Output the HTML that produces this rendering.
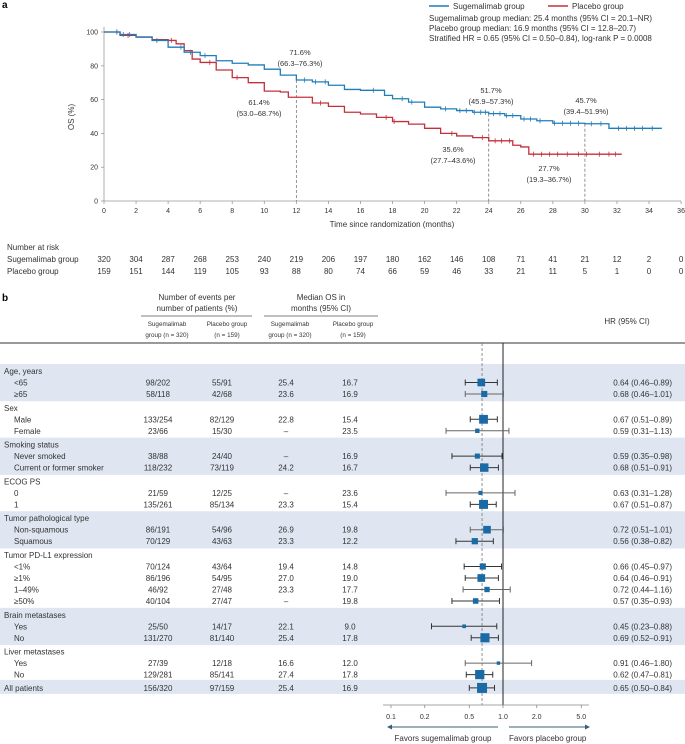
<!DOCTYPE html>
<html><head><meta charset="utf-8"><style>
body{margin:0;background:#fff}
svg{display:block;font-family:"Liberation Sans",sans-serif}
</style></head><body>
<svg id="c" width="685" height="744" viewBox="0 0 685 744"></svg>
<script>
const NS="http://www.w3.org/2000/svg";
const svg=document.getElementById('c');
function el(t,a,p){const e=document.createElementNS(NS,t);for(const k in a)e.setAttribute(k,a[k]);(p||svg).appendChild(e);return e;}
function tx(x,y,s,o,p){const e=el('text',Object.assign({x:x,y:y,'font-size':8,fill:'#333'},o||{}),p);e.textContent=s;return e;}

// ---------- KM data ----------
const sugeT=[0,1,2,3,4,5,6,7,8,9,10,11,12,13,14,15,16,17,17.5,18,19,20,21,22,23,24,25,26,27,28,30,31.5,31.5,34.8];
const sugeS=[100,98.5,97,95,91,88,86,83,81.5,80.5,78,74.5,71.6,70.5,68.5,66,65.5,65.5,62.5,60.5,58.5,55.5,54.5,53.5,52.5,51.7,50.5,48.5,47.5,46,45.7,45.7,43,43];
const placT=[0,1,2,3,4,4.5,5,5.5,6,7,8,9,10,11,11.5,12,13,14,15,16,17,18,19,20,21,22,23,24,25,25.5,26,26.5,32.3];
const placS=[100,98,97,95.5,95,93,89,84,82,77.5,73,70,65,64.5,61.4,61.4,58,56,52.5,51.5,49.5,47,45.5,43,40,38.5,37.5,35.6,35.6,33,32,27.7,27.7];
const sugeCens=[0.8,1.2,1.6,3.3,4.8,5.4,6.3,12.5,13.2,13.8,16.8,18.6,19.2,21.3,22.2,22.6,23.1,23.5,23.8,24.3,24.7,25.1,25.5,26.2,26.6,27.2,28.1,28.6,29.1,29.6,30.4,31,32.1,32.6,33.1,33.6,34.2];
const placCens=[0.8,1.5,4.2,6.6,8.3,13.5,17.6,18.1,21.7,23.6,24.4,24.8,25.3,26.8,27.3,27.8,28.3,28.9,29.6,30.1,30.9,31.5,31.9];
const riskSuge=[320,304,287,268,253,240,219,206,197,180,162,146,108,71,41,21,12,2,0];
const riskPlac=[159,151,144,119,105,93,88,80,74,66,59,46,33,21,11,5,1,0,0];
const xTicks=[0,2,4,6,8,10,12,14,16,18,20,22,24,26,28,30,32,34,36];
const yTicks=[0,20,40,60,80,100];
const xK=t=>104+t*16.03, yK=s=>201-s*1.69;

const pa=tx(2,8,'a',{'font-weight':'bold','font-size':10,fill:'#000'});


// axes
const ax=el('g',{});
el('line',{x1:104,y1:yK(103),x2:104,y2:201,stroke:'#999','stroke-width':0.8},ax);
el('line',{x1:104,y1:201,x2:681,y2:201,stroke:'#999','stroke-width':0.8},ax);
yTicks.forEach(v=>{el('line',{x1:101,x2:104,y1:yK(v),y2:yK(v),stroke:'#999','stroke-width':0.8},ax);
 const t=tx(98,yK(v)+2.5,v,{'text-anchor':'end','font-size':7},ax);
 
 });
xTicks.forEach(v=>{el('line',{x1:xK(v),x2:xK(v),y1:201,y2:204,stroke:'#999','stroke-width':0.8},ax);
 const t=tx(xK(v),213,v,{'text-anchor':'middle','font-size':7},ax);
 
 });
const xt=tx(392,227,'Time since randomization (months)',{'text-anchor':'middle'});


const yt=tx(0,0,'OS (%)',{'text-anchor':'middle',transform:'translate(74,117) rotate(-90)'});



// dashed verticals
[[12,71.6],[24,51.7],[30,45.7]].forEach(d=>{const l=el('line',{x1:xK(d[0]),x2:xK(d[0]),y1:yK(d[1]),y2:201,stroke:'#777','stroke-width':0.8,'stroke-dasharray':'3,2'});
 
 });

function step(T,S){let d=`M${xK(T[0])},${yK(S[0])}`;for(let i=1;i<T.length;i++){d+=`H${xK(T[i])}V${yK(S[i])}`;}return d;}
function survAt(T,S,t){let s=S[0];for(let i=0;i<T.length;i++){if(T[i]<=t)s=S[i];}return s;}
const pc=el('path',{d:step(placT,placS),fill:'none',stroke:'#c4303d','stroke-width':1.3});


const sc=el('path',{d:step(sugeT,sugeS),fill:'none',stroke:'#1f7db8','stroke-width':1.3});


placCens.forEach(t=>{const y=yK(survAt(placT,placS,t));const l=el('line',{x1:xK(t),x2:xK(t),y1:y-2.5,y2:y+2.5,stroke:'#c4303d','stroke-width':0.8});
 
 });
sugeCens.forEach(t=>{const y=yK(survAt(sugeT,sugeS,t));const l=el('line',{x1:xK(t),x2:xK(t),y1:y-2.5,y2:y+2.5,stroke:'#1f7db8','stroke-width':0.8});
 
 });

// annotations
[[300,55,'71.6%'],[300,66,'(66.3–76.3%)'],[259,105,'61.4%'],[259,116,'(53.0–68.7%)'],[491,93,'51.7%'],[491,104,'(45.9–57.3%)'],[586,103,'45.7%'],[586,114,'(39.4–51.9%)'],[453,152,'35.6%'],[453,163,'(27.7–43.6%)'],[549,171,'27.7%'],[549,182,'(19.3–36.7%)']].forEach(a=>{const t=tx(a[0],a[1],a[2],{'text-anchor':'middle','font-size':7.5});
 
 });

// legend
const lg=el('g',{});
el('line',{x1:429,x2:449,y1:6,y2:6,stroke:'#1f7db8','stroke-width':1.5},lg);
tx(453,9,'Sugemalimab group',{},lg);
el('line',{x1:548,x2:568,y1:6,y2:6,stroke:'#c4303d','stroke-width':1.5},lg);
tx(572,9,'Placebo group',{},lg);
tx(429,21,'Sugemalimab group median: 25.4 months (95% CI = 20.1–NR)',{},lg);
tx(429,31,'Placebo group median: 16.9 months (95% CI = 12.8–20.7)',{},lg);
tx(429,41,'Stratified HR = 0.65 (95% CI = 0.50–0.84), log-rank P = 0.0008',{},lg);

// number at risk
const nr=el('g',{});
tx(7,250,'Number at risk',{},nr);tx(7,262,'Sugemalimab group',{},nr);tx(7,274,'Placebo group',{},nr);
riskSuge.forEach((v,i)=>tx(xK(xTicks[i]),262,v,{'text-anchor':'middle'},nr));
riskPlac.forEach((v,i)=>tx(xK(xTicks[i]),274,v,{'text-anchor':'middle'},nr));

// ---------- Forest ----------
const pb=tx(2,301,'b',{'font-weight':'bold','font-size':10,fill:'#000'});


const groupNames=['Age, years','Sex','Smoking status','ECOG PS','Tumor pathological type','Tumor PD-L1 expression','Brain metastases','Liver metastases'];
const rowGroup=[0,0,1,1,2,2,3,3,4,4,5,5,5,5,6,6,7,7];
const rowLabels=['<65','≥65','Male','Female','Never smoked','Current or former smoker','0','1','Non-squamous','Squamous','<1%','≥1%','1–49%','≥50%','Yes','No','Yes','No'];
const evS=['98/202','58/118','133/254','23/66','38/88','118/232','21/59','135/261','86/191','70/129','70/124','86/196','46/92','40/104','25/50','131/270','27/39','129/281'];
const evP=['55/91','42/68','82/129','15/30','24/40','73/119','12/25','85/134','54/96','43/63','43/64','54/95','27/48','27/47','14/17','81/140','12/18','85/141'];
const medS=['25.4','23.6','22.8','–','–','24.2','–','23.3','26.9','23.3','19.4','27.0','23.3','–','22.1','25.4','16.6','27.4'];
const medP=['16.7','16.9','15.4','23.5','16.9','16.7','23.6','15.4','19.8','12.2','14.8','19.0','17.7','19.8','9.0','17.8','12.0','17.8'];
const hr=[0.64,0.68,0.67,0.59,0.59,0.68,0.63,0.67,0.72,0.56,0.66,0.64,0.72,0.57,0.45,0.69,0.91,0.62];
const lo=[0.46,0.46,0.51,0.31,0.35,0.51,0.31,0.51,0.51,0.38,0.45,0.46,0.44,0.35,0.23,0.52,0.46,0.47];
const hi=[0.89,1.01,0.89,1.13,0.98,0.91,1.28,0.87,1.01,0.82,0.97,0.91,1.16,0.93,0.88,0.91,1.80,0.81];
const allRow={ev:'156/320',evp:'97/159',ms:'25.4',mp:'16.9',hr:0.65,lo:0.50,hi:0.84};
const hrTicks=[0.1,0.2,0.5,1.0,2.0,5.0];
const xF=h=>503+112*Math.log10(h);
const f2=v=>v.toFixed(2);

// header
const hd=el('g',{});
tx(197,300,'Number of events per',{'text-anchor':'middle'},hd);
tx(197,311,'number of patients (%)',{'text-anchor':'middle'},hd);
el('line',{x1:141,x2:252,y1:316,y2:316,stroke:'#555','stroke-width':0.8},hd);
tx(321,300,'Median OS in',{'text-anchor':'middle'},hd);
tx(321,311,'months (95% CI)',{'text-anchor':'middle'},hd);
el('line',{x1:264,x2:378,y1:316,y2:316,stroke:'#555','stroke-width':0.8},hd);
[[167,'Sugemalimab','group (n = 320)'],[227,'Placebo group','(n = 159)'],[290,'Sugemalimab','group (n = 320)'],[353,'Placebo group','(n = 159)']].forEach(h=>{tx(h[0],326,h[1],{'text-anchor':'middle','font-size':6.3},hd);tx(h[0],337,h[2],{'text-anchor':'middle','font-size':6.3},hd);});
tx(627,324,'HR (95% CI)',{'text-anchor':'middle'},hd);
el('line',{x1:0,x2:685,y1:343,y2:343,stroke:'#333','stroke-width':1},hd);

// compute y positions
const headerY=[];const rowY=[];let y=371;let g=-1;
rowGroup.forEach((gi,i)=>{if(gi!==g){if(g>=0)y+=13.8;headerY[gi]=y;g=gi;}y+=11.5;rowY[i]=y;});
const allY=y+13.3;
// bands
const bands=el('g',{});
groupNames.forEach((n,gi)=>{if(gi%2===0){let last=0;rowGroup.forEach((r,i)=>{if(r===gi)last=rowY[i];});
 el('rect',{x:0,y:headerY[gi]-7,width:685,height:last-headerY[gi]+14.3,fill:'#dfe6f1'},bands);}});
el('rect',{x:0,y:allY-8,width:685,height:14,fill:'#dfe6f1'},bands);

// ref lines
const nl=el('line',{x1:xF(1),x2:xF(1),y1:343,y2:705,stroke:'#222','stroke-width':1});


const ol=el('line',{x1:xF(0.65),x2:xF(0.65),y1:343,y2:705,stroke:'#777','stroke-width':0.8,'stroke-dasharray':'3,2'});



// group headers
groupNames.forEach((n,gi)=>{const t=tx(4,headerY[gi]+3,n);
 
 });
function drawRow(label,lx,yy,e1,e2,m1,m2,h,l,u,sz){
 const rg=el('g',{});
 
 
 tx(lx,yy+3,label,{},rg);
 tx(158,yy+3,e1,{'text-anchor':'middle'},rg);tx(222,yy+3,e2,{'text-anchor':'middle'},rg);
 tx(286,yy+3,m1,{'text-anchor':'middle'},rg);tx(350,yy+3,m2,{'text-anchor':'middle'},rg);
 const col=u>=1?'#666':'#333';
 el('line',{x1:xF(l),x2:xF(u),y1:yy,y2:yy,stroke:col,'stroke-width':1},rg);
 el('line',{x1:xF(l),x2:xF(l),y1:yy-3,y2:yy+3,stroke:col,'stroke-width':1},rg);
 el('line',{x1:xF(u),x2:xF(u),y1:yy-3,y2:yy+3,stroke:col,'stroke-width':1},rg);
 el('rect',{x:xF(h)-sz/2,y:yy-sz/2,width:sz,height:sz,fill:'#1a6aa5'},rg);
 tx(672,yy+3,`${f2(h)} (${f2(l)}–${f2(u)})`,{'text-anchor':'end'},rg);
}
rowLabels.forEach((lab,i)=>{const parts=evS[i].split('/').map(Number),pp=evP[i].split('/').map(Number);const n=parts[1]+pp[1];
 drawRow(lab,14,rowY[i],evS[i],evP[i],medS[i],medP[i],hr[i],lo[i],hi[i],Math.sqrt(n)*0.45);});
drawRow('All patients',4,allY,allRow.ev,allRow.evp,allRow.ms,allRow.mp,allRow.hr,allRow.lo,allRow.hi,10);

// forest axis
const fa=el('g',{});
el('line',{x1:383,x2:589,y1:705,y2:705,stroke:'#888','stroke-width':0.8},fa);
hrTicks.forEach(v=>{el('line',{x1:xF(v),x2:xF(v),y1:705,y2:708,stroke:'#888','stroke-width':0.8},fa);tx(xF(v),719,v.toFixed(1),{'text-anchor':'middle','font-size':7},fa);});
el('line',{x1:390,x2:498,y1:727,y2:727,stroke:'#3a5f7a','stroke-width':0.9},fa);
el('path',{d:'M387,727 l5,-2.5 v5 z',fill:'#3a5f7a'},fa);
el('line',{x1:509,x2:586,y1:727,y2:727,stroke:'#3a5f7a','stroke-width':0.9},fa);
el('path',{d:'M590,727 l-5,-2.5 v5 z',fill:'#3a5f7a'},fa);
tx(443,741,'Favors sugemalimab group',{'text-anchor':'middle'},fa);
tx(509,741,'Favors placebo group',{},fa);
</script>
</body></html>
